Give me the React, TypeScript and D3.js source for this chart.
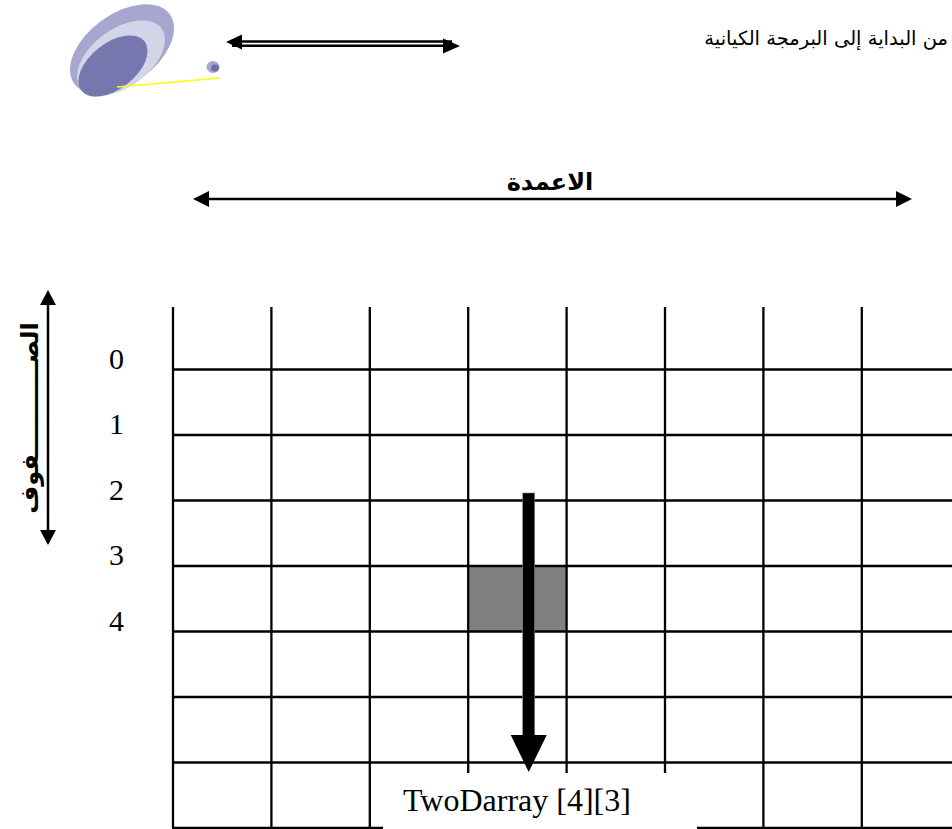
import React from "react";
import * as d3 from "d3";

// ---- data ----
const columnCount = 8; // visible column boundaries beyond first
const rowLabels = ["0", "1", "2", "3", "4"];
const rowLineIndices = [1, 2, 3, 4, 5, 6, 7];
const highlightCell = { row: 4, col: 3 };
const headerText = "من البداية إلى البرمجة الكيانية";
const columnsTitle = "الاعمدة";
const rowsTitle = "الصـــــــــــفوف";
const caption = "TwoDarray [4][3]";

const W = 952;
const H = 829;

function ArrowHead({ x, y, dir, w, l }: { x: number; y: number; dir: "l" | "r" | "u" | "d"; w: number; l: number }) {
  let pts: [number, number][] = [];
  if (dir === "l") pts = [[x, y], [x + l, y - w / 2], [x + l, y + w / 2]];
  if (dir === "r") pts = [[x, y], [x - l, y - w / 2], [x - l, y + w / 2]];
  if (dir === "u") pts = [[x, y], [x - w / 2, y + l], [x + w / 2, y + l]];
  if (dir === "d") pts = [[x, y], [x - w / 2, y - l], [x + w / 2, y - l]];
  return <polygon points={pts.map((p) => p.join(",")).join(" ")} fill="#000" />;
}

export default function App() {
  const x = d3.scaleLinear().domain([0, columnCount]).range([173, 960.2]);
  const y = d3.scaleLinear().domain([0, 8]).range([304, 828]);
  const colIdx = d3.range(0, columnCount + 1);

  const gridTop = 307;
  const boxX0 = 383;
  const boxX1 = 697;
  const boxY0 = 773;

  const arrowX = x(highlightCell.col + 0.615);

  return (
    <svg width={W} height={H} style={{ position: "absolute", left: 0, top: 0, background: "#fff" }}>
      <rect x={0} y={0} width={W} height={H} fill="#fff" />
      {/* logo */}
      <g>
        <ellipse cx={122} cy={49} rx={59} ry={35} transform="rotate(-36 122 49)" fill="#a6a6cf" />
        <ellipse cx={121} cy={58} rx={50} ry={29} transform="rotate(-36 121 58)" fill="#d4d4e9" />
        <ellipse cx={113} cy={66} rx={40} ry={23} transform="rotate(-38 113 66)" fill="#7777b0" />
        <line x1={117} y1={87} x2={220} y2={78} stroke="#ffff00" strokeWidth={1.6} />
        <ellipse cx={213} cy={67} rx={6.5} ry={6} fill="#a6a6cf" />
        <ellipse cx={215} cy={68} rx={4} ry={3.5} fill="#6c6ca8" />
      </g>
      {/* header double arrow */}
      <g>
        <line x1={232} y1={41.5} x2={452} y2={41.5} stroke="#000" strokeWidth={2.5} />
        <line x1={232} y1={45.8} x2={452} y2={45.8} stroke="#000" strokeWidth={2.5} />
        <ArrowHead x={226} y={42} dir="l" w={15} l={16} />
        <ArrowHead x={460} y={46} dir="r" w={15} l={17} />
      </g>
      <text x={948} y={45} textAnchor="end" fontFamily="'DejaVu Sans', Arial, sans-serif" fontSize={19.5} fill="#000">
        {headerText}
      </text>

      {/* columns title and arrow */}
      <text x={550} y={190} textAnchor="middle" fontFamily="'DejaVu Sans', sans-serif" fontWeight="bold" fontSize={24} fill="#000">
        {columnsTitle}
      </text>
      <line x1={205} y1={199} x2={900} y2={199} stroke="#000" strokeWidth={2.5} />
      <ArrowHead x={193} y={199} dir="l" w={16} l={16} />
      <ArrowHead x={912} y={199} dir="r" w={16} l={16} />

      {/* rows title and arrow */}
      <g transform="translate(31 418) rotate(-90)">
        <text x={0} y={0} textAnchor="middle" dominantBaseline="middle" fontFamily="'DejaVu Sans', sans-serif" fontWeight="bold" fontSize={24} fill="#000">
          {rowsTitle}
        </text>
      </g>
      <line x1={48} y1={302} x2={48} y2={533} stroke="#000" strokeWidth={2.5} />
      <ArrowHead x={48} y={290} dir="u" w={16} l={15} />
      <ArrowHead x={48} y={545} dir="d" w={16} l={15} />

      {/* row labels */}
      {rowLabels.map((lab, i) => (
        <text key={lab} x={109} y={y(i + 1) - 1} fontFamily="'Liberation Serif', 'Times New Roman', serif" fontSize={30} fill="#000">
          {lab}
        </text>
      ))}

      {/* highlighted cell */}
      <rect
        x={x(highlightCell.col)}
        y={y(highlightCell.row)}
        width={x(highlightCell.col + 1) - x(highlightCell.col)}
        height={y(highlightCell.row + 1) - y(highlightCell.row)}
        fill="#808080"
      />

      {/* grid */}
      {colIdx.map((c) => (
        <line key={"v" + c} x1={x(c)} y1={gridTop} x2={x(c)} y2={y(8)} stroke="#000" strokeWidth={2.3} />
      ))}
      {rowLineIndices.map((r) => (
        <line key={"h" + r} x1={x(0) - 1} y1={y(r)} x2={W} y2={y(r)} stroke="#000" strokeWidth={2.5} />
      ))}
      <line x1={x(0) - 1} y1={y(8)} x2={W} y2={y(8)} stroke="#000" strokeWidth={2.5} />

      {/* caption box */}
      <rect x={boxX0} y={boxY0} width={boxX1 - boxX0} height={H - boxY0 + 2} fill="#fff" />
      <text x={403} y={811} fontFamily="'Liberation Serif', 'Times New Roman', serif" fontSize={32} fill="#000">
        {caption}
      </text>

      {/* thick arrow */}
      <rect x={arrowX - 6} y={493} width={12} height={735 - 493 + 1} fill="#000" stroke="#888" strokeWidth={0.6} />
      <ArrowHead x={arrowX} y={772} dir="d" w={36} l={37} />
    </svg>
  );
}
